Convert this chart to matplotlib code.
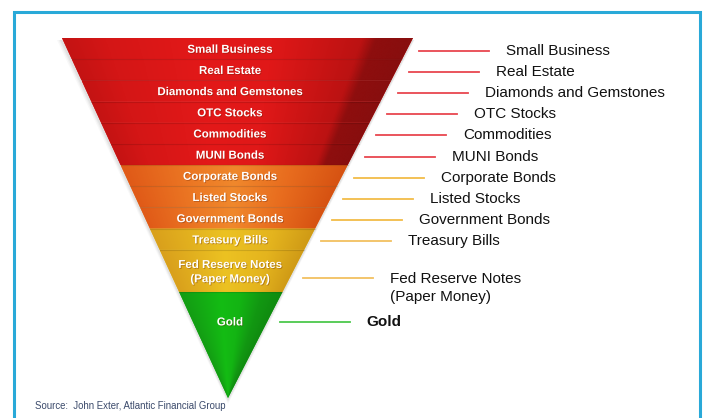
import numpy as np
import matplotlib
matplotlib.use("Agg")
import matplotlib.pyplot as plt
from matplotlib.patches import Polygon
from matplotlib.colors import LinearSegmentedColormap
import matplotlib.patheffects as pe

# --- data ---------------------------------------------------------------
inner_labels = ["Small Business", "Real Estate", "Diamonds and Gemstones",
                "OTC Stocks", "Commodities", "MUNI Bonds", "Corporate Bonds",
                "Listed Stocks", "Government Bonds", "Treasury Bills",
                "Fed Reserve Notes\n(Paper Money)", "Gold"]
outer_labels = ["Small Business", "Real Estate", "Diamonds and Gemstones",
                "OTC Stocks", "Commodities", "MUNI Bonds", "Corporate Bonds",
                "Listed Stocks", "Government Bonds", "Treasury Bills",
                "Fed Reserve Notes\n(Paper Money)", "Gold"]
layer_heights = [1, 1, 1, 1, 1, 1, 1, 1, 1, 1, 2, 5]
tiers = ["red"] * 6 + ["orange"] * 3 + ["yellow"] * 2 + ["green"]
source = "Source:  John Exter, Atlantic Financial Group"

palettes = {
    "red": [(0, "#c41313"), (0.12, "#d41616"), (0.4, "#e31919"), (0.6, "#e01818"),
            (0.72, "#cf1515"), (0.86, "#bb1212"), (0.9, "#8e0e0e"), (1, "#880e0e")],
    "orange": [(0, "#e05a18"), (0.3, "#ec7824"), (0.5, "#f0882c"), (0.75, "#e86c1e"),
               (1, "#d65212")],
    "yellow": [(0, "#d9a01c"), (0.45, "#ecc222"), (0.75, "#e4b41e"), (1, "#cf9a16")],
    "green": [(0, "#139c13"), (0.4, "#14bc14"), (0.6, "#13b413"), (0.8, "#129812"),
              (1, "#108a10")],
}
leader_colors = {"red": "#e8474f", "orange": "#f2bc48", "yellow": "#f2c060",
                 "green": "#4cc84c"}

# --- layout (pixel coordinates) -----------------------------------------
W, H = 705, 418
top_y, apex_y = 38, 398
top_left, top_right, apex_x = 62, 413, 228


def left_x(y):
    return top_left + (apex_x - top_left) * (y - top_y) / (apex_y - top_y)


def right_x(y):
    return top_right + (apex_x - top_right) * (y - top_y) / (apex_y - top_y)


fig = plt.figure(figsize=(W / 100, H / 100), dpi=100)
ax = fig.add_axes([0, 0, 1, 1])
ax.set_xlim(0, W)
ax.set_ylim(H, 0)
ax.axis("off")

# frame
ax.plot([14, 14, 700, 700], [H + 5, 12, 12, H + 5], color="#29a9d8", lw=2.2,
        solid_joinstyle="miter")

# soft shadow behind the funnel
for k, a in [(5, 0.05), (3.5, 0.07), (2, 0.1)]:
    sh = Polygon([(top_left - k, top_y + 2), (top_right + k * 0.3, top_y + 2),
                  (apex_x, apex_y + k + 1)], closed=True, fc="#777777",
                 ec="none", alpha=a, zorder=1)
    ax.add_patch(sh)

unit = (apex_y - top_y) / sum(layer_heights)
bounds = np.concatenate([[0], np.cumsum(layer_heights)]) * unit + top_y

for i, label in enumerate(inner_labels):
    y0, y1 = bounds[i], bounds[i + 1]
    tier = tiers[i]
    cmap = LinearSegmentedColormap.from_list(tier, palettes[tier])
    if i == len(inner_labels) - 1:
        poly_pts = [(left_x(y0), y0), (right_x(y0), y0), (apex_x, apex_y)]
    else:
        poly_pts = [(left_x(y0), y0), (right_x(y0), y0),
                    (right_x(y1), y1), (left_x(y1), y1)]
    poly = Polygon(poly_pts, closed=True, fc=cmap(0.4), ec="none", zorder=2)
    ax.add_patch(poly)

    # horizontal shading following the funnel edges
    xs = np.linspace(left_x(y0), right_x(y0), 400)
    ys = np.linspace(y0, y1, 60)
    X, Y = np.meshgrid(xs, ys)
    t = (X - left_x(Y)) / np.maximum(right_x(Y) - left_x(Y), 1e-6)
    img = cmap(np.clip(t, 0, 1))
    im = ax.imshow(img, extent=(xs[0], xs[-1], y1, y0), aspect="auto",
                   interpolation="bilinear", zorder=3)
    im.set_clip_path(poly)

    # thin separator at the top of each layer
    if i > 0:
        ax.plot([left_x(y0), right_x(y0)], [y0, y0], color="#000000",
                alpha=0.12, lw=0.8, zorder=4)

    # inner label
    nlines = label.count("\n") + 1
    label_y = y0 + min(y1 - y0, 2.75 * unit) / 2 + 1.2
    ax.text(230, label_y, label, ha="center", va="center", color="white",
            fontsize=8.3, fontweight="bold", family="Liberation Sans",
            linespacing=1.25, zorder=5,
            path_effects=[pe.withSimplePatchShadow(offset=(0.6, -0.6),
                                                   shadow_rgbFace="#5a1a00",
                                                   alpha=0.35)])

    # leader line and outer label
    lead_y = label_y + 1 + 5 * (nlines - 1)
    if i == len(inner_labels) - 1:
        lead_y = label_y
    x_start = right_x(lead_y) + 13
    x_end = x_start + 70
    ax.plot([x_start, x_end], [lead_y, lead_y], color=leader_colors[tier],
            lw=1.3, zorder=5)
    out = outer_labels[i]
    bold = tier == "green"
    ax.text(x_end + 17, lead_y + 10 * (nlines - 1), out, ha="left",
            va="center", fontsize=11, color="#111111",
            fontweight="bold" if bold else "normal",
            family="Liberation Sans", linespacing=1.4, zorder=5)

ax.text(35, 406, source, ha="left", va="center", fontsize=6.9,
        color="#3b4a6b", family=["Liberation Sans Narrow", "Liberation Sans"])

fig.savefig("out.png", dpi=100)
